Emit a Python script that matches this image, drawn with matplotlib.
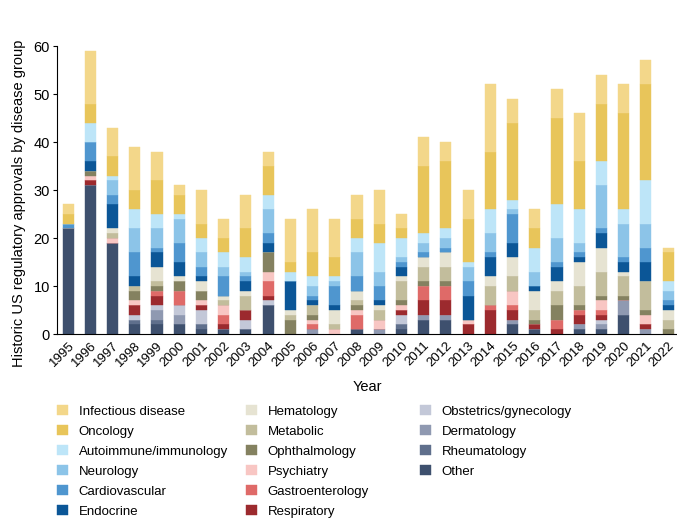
import matplotlib.pyplot as plt
import numpy as np

years = [str(y) for y in range(1995, 2023)]

# stacked bottom -> top
other = [22, 31, 19, 2, 2, 2, 1, 1, 1, 6, 0, 0, 0, 1, 0, 1, 3, 3, 0, 0, 2, 1, 0, 1, 1, 4, 0, 0]
rheumatology = [0, 0, 0, 1, 1, 0, 1, 0, 0, 0, 0, 0, 0, 0, 0, 1, 0, 0, 0, 0, 0, 0, 0, 0, 0, 0, 0, 0]
dermatology = [0, 0, 0, 0, 2, 2, 0, 0, 0, 0, 0, 1, 0, 0, 1, 0, 1, 1, 0, 0, 1, 0, 0, 1, 1, 3, 1, 0]
obgyn = [0, 0, 0, 1, 1, 2, 3, 0, 2, 1, 0, 0, 0, 0, 0, 2, 0, 0, 0, 0, 0, 0, 0, 0, 1, 0, 0, 0]
respiratory = [0, 1, 0, 2, 2, 0, 1, 1, 2, 1, 0, 0, 0, 0, 0, 1, 3, 3, 2, 5, 2, 1, 1, 2, 1, 0, 1, 0]
gastro = [0, 0, 0, 0, 1, 3, 0, 2, 0, 3, 0, 1, 0, 3, 0, 0, 3, 3, 0, 1, 1, 0, 2, 1, 1, 0, 0, 0]
psychiatry = [0, 1, 1, 1, 0, 0, 1, 2, 0, 2, 0, 1, 1, 1, 2, 1, 0, 0, 1, 0, 3, 0, 0, 0, 2, 0, 2, 0]
ophthalmology = [0, 1, 0, 2, 1, 2, 2, 0, 0, 4, 3, 1, 0, 1, 0, 1, 1, 1, 0, 0, 0, 1, 3, 1, 1, 1, 1, 1]
metabolic = [0, 0, 1, 1, 1, 0, 0, 1, 3, 0, 1, 2, 1, 1, 2, 4, 3, 3, 0, 4, 3, 2, 3, 4, 5, 4, 6, 2]
hematology = [0, 0, 1, 0, 3, 1, 2, 1, 1, 0, 1, 0, 3, 2, 1, 1, 2, 3, 0, 2, 4, 4, 2, 5, 5, 1, 0, 2]
endocrine = [0, 2, 5, 2, 3, 3, 1, 0, 2, 2, 6, 1, 1, 0, 1, 2, 0, 0, 5, 4, 3, 1, 3, 1, 3, 2, 4, 1]
cardiovascular = [1, 4, 2, 5, 1, 4, 2, 4, 1, 2, 0, 1, 4, 3, 3, 1, 1, 1, 3, 1, 6, 0, 1, 1, 1, 1, 3, 1]
neurology = [0, 0, 3, 5, 4, 5, 3, 2, 1, 5, 0, 2, 1, 5, 3, 1, 2, 2, 3, 4, 1, 3, 5, 2, 9, 7, 5, 2]
autoimmune = [0, 4, 1, 4, 3, 1, 3, 3, 3, 3, 2, 2, 1, 3, 6, 4, 2, 2, 1, 5, 2, 5, 7, 7, 5, 3, 9, 2]
oncology = [2, 4, 4, 4, 7, 4, 3, 3, 6, 6, 2, 5, 4, 4, 4, 2, 14, 14, 9, 12, 16, 4, 18, 10, 12, 20, 20, 6]
infectious = [2, 11, 6, 9, 6, 2, 7, 4, 7, 3, 9, 9, 8, 5, 7, 3, 6, 4, 6, 14, 5, 4, 6, 10, 6, 6, 5, 1]

series = [
    ("Other", other, "#3e506e"),
    ("Rheumatology", rheumatology, "#5f6f8c"),
    ("Dermatology", dermatology, "#8f99b1"),
    ("Obstetrics/gynecology", obgyn, "#c3c8d8"),
    ("Respiratory", respiratory, "#9c2a2e"),
    ("Gastroenterology", gastro, "#df6a68"),
    ("Psychiatry", psychiatry, "#f8c6c3"),
    ("Ophthalmology", ophthalmology, "#848160"),
    ("Metabolic", metabolic, "#c2bd9c"),
    ("Hematology", hematology, "#e6e3d2"),
    ("Endocrine", endocrine, "#0b5697"),
    ("Cardiovascular", cardiovascular, "#4f96cf"),
    ("Neurology", neurology, "#8cc4e8"),
    ("Autoimmune/immunology", autoimmune, "#bde5f8"),
    ("Oncology", oncology, "#e8c55a"),
    ("Infectious disease", infectious, "#f3d78a"),
]

plt.rcParams["font.family"] = ["Liberation Sans", "DejaVu Sans"]

fig = plt.figure(figsize=(6.77, 5.19), dpi=100)
ax = fig.add_axes([57 / 677, 185 / 519, 620 / 677, 290.4 / 519])

x = np.arange(len(years))
bottom = np.zeros(len(years))
handles = {}
for name, vals, color in series:
    vals = np.array(vals, dtype=float)
    b = ax.bar(x, vals, width=0.5, bottom=bottom, color=color,
               edgecolor=color, linewidth=0.3)
    handles[name] = b
    bottom += vals

ax.set_xlim(-0.5, 27.4)
ax.set_ylim(0, 60.5)
ax.set_yticks(range(0, 61, 10))
ax.set_xticks(x)
ax.set_xticklabels(years, rotation=45, ha="right", va="top", rotation_mode="anchor")
ax.tick_params(axis="x", length=0, labelsize=9.5, pad=4)
ax.tick_params(axis="y", length=3, labelsize=10.5, pad=2)
ax.spines["top"].set_visible(False)
ax.spines["right"].set_visible(False)
ax.spines["left"].set_bounds(0, 60)
ax.set_ylabel("Historic US regulatory approvals by disease group", fontsize=10.5)
ax.yaxis.set_label_coords(-0.05, 0.45)
ax.set_xlabel("Year", fontsize=10.5, labelpad=8)

# legend in three columns of 6, 6 and 4 entries
legend_order = [name for name, _, _ in series][::-1]
cols = [legend_order[0:6], legend_order[6:12], legend_order[12:16]]
col_x = [57 / 677, 246 / 677, 420 / 677]
for names, lx in zip(cols, col_x):
    leg = fig.legend([handles[n] for n in names], names, loc="upper left",
                     bbox_to_anchor=(lx, 1 - 405 / 519), frameon=False,
                     fontsize=9.5, handlelength=0.8, handleheight=0.8,
                     handletextpad=0.85, labelspacing=0.56, borderpad=0,
                     borderaxespad=0)

fig.savefig("out.png", dpi=100)
